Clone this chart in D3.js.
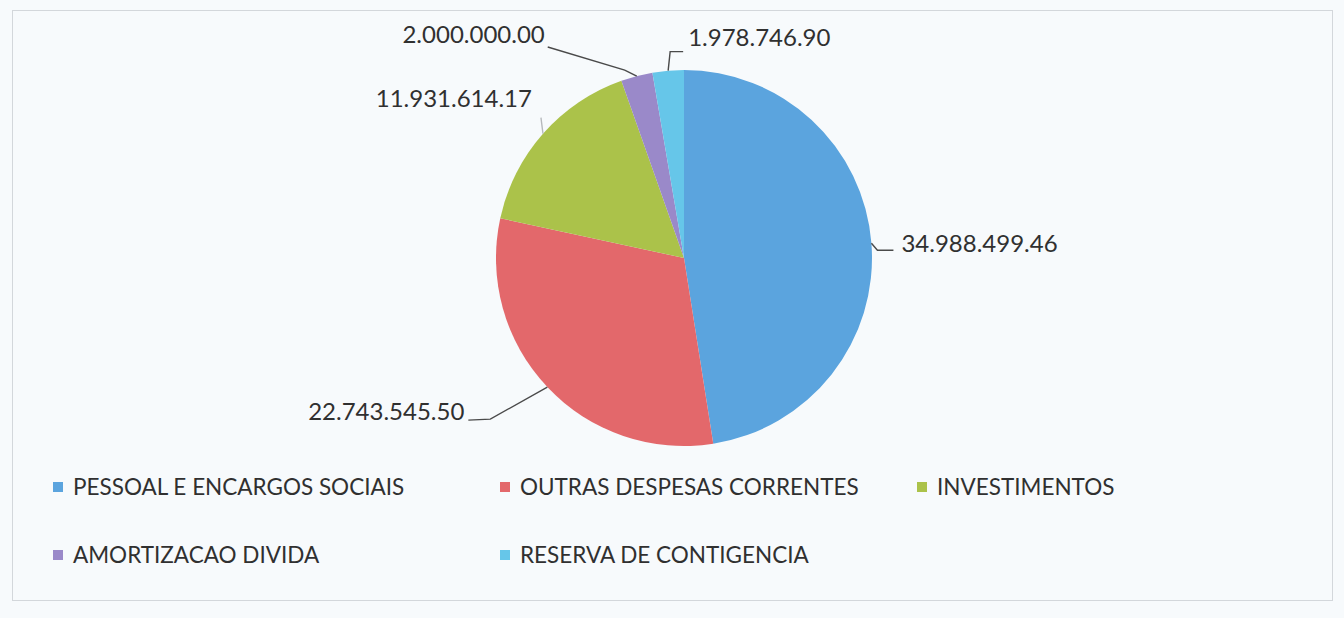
<!DOCTYPE html>
<html lang="pt">
<head>
    <meta charset="UTF-8">
    <title>Despesas</title>
    <style>
        body {
            margin: 0;
            background-color: #f7fafc;
            font-family: Lato, "Open Sans", sans-serif;
        }
        svg text {
            fill: #303030;
        }
    </style>
    <script src="https://d3js.org/d3.v7.min.js"></script>
</head>
<body>
    <svg id="chart" width="1344" height="618"></svg>
    <script>
        // Data
        const categories = ["PESSOAL E ENCARGOS SOCIAIS", "OUTRAS DESPESAS CORRENTES", "INVESTIMENTOS", "AMORTIZACAO DIVIDA", "RESERVA DE CONTIGENCIA"];
        const values = [34988499.46, 22743545.50, 11931614.17, 2000000.00, 1978746.90];
        const valueLabels = ["34.988.499.46", "22.743.545.50", "11.931.614.17", "2.000.000.00", "1.978.746.90"];
        const colors = ["#5ba4de", "#e3686b", "#abc24a", "#9a89c9", "#66c6e9"];

        // leader line bends (relative to the slice edge point) and label placement
        const leaders = [
            { pts: [[6, 7], [22, 7]], dx: 30, dy: 0, anchor: "start" },
            { pts: [[-57, 32], [-79, 33]], dx: -83, dy: 25, anchor: "end" },
            { pts: [[-2, -16]], dx: -11, dy: -35, anchor: "end" },
            { pts: [[-12, -6], [-89, -29]], dx: -92, dy: -41, anchor: "end" },
            { pts: [[2, -19], [15, -19]], dx: 20, dy: -33, anchor: "start" }
        ];

        const svg = d3.select("#chart");

        svg.append("rect")
            .attr("x", 12.5).attr("y", 10.5)
            .attr("width", 1320).attr("height", 590)
            .attr("fill", "none")
            .attr("stroke", "#d3d7db");

        const cx = 684, cy = 258, r = 188;
        const g = svg.append("g").attr("transform", `translate(${cx},${cy})`);

        const pie = d3.pie().sort(null).value(d => d);
        const arcs = pie(values);
        const arc = d3.arc().innerRadius(0).outerRadius(r);

        g.selectAll("path.slice")
            .data(arcs)
            .enter().append("path")
            .attr("class", "slice")
            .attr("d", arc)
            .attr("fill", (d, i) => colors[i]);

        const edge = d => {
            const a = (d.startAngle + d.endAngle) / 2;
            return [r * Math.sin(a), -r * Math.cos(a)];
        };

        g.selectAll("path.leader")
            .data(arcs)
            .enter().append("path")
            .attr("class", "leader")
            .attr("fill", "none")
            .attr("stroke", (d, i) => i === 2 ? "#b5b8bb" : "#4a4a4a")
            .attr("stroke-width", 1.4)
            .attr("d", (d, i) => {
                const p = edge(d);
                const pts = [p].concat(leaders[i].pts.map(q => [p[0] + q[0], p[1] + q[1]]));
                return d3.line()(pts);
            });

        g.selectAll("text.value")
            .data(arcs)
            .enter().append("text")
            .attr("class", "value")
            .attr("x", (d, i) => edge(d)[0] + leaders[i].dx)
            .attr("y", (d, i) => edge(d)[1] + leaders[i].dy)
            .attr("dy", "0.35em")
            .attr("text-anchor", (d, i) => leaders[i].anchor)
            .style("font-size", "24px")
            .text((d, i) => valueLabels[i]);

        // legend
        const legendX = d3.scaleOrdinal().domain([0, 1, 2]).range([58, 505, 922]);
        const legendY = d3.scaleOrdinal().domain([0, 1]).range([487, 555]);

        const item = svg.selectAll("g.legend")
            .data(categories)
            .enter().append("g")
            .attr("class", "legend")
            .attr("transform", (d, i) => {
                const col = i < 3 ? i : i - 3;
                const row = i < 3 ? 0 : 1;
                return `translate(${legendX(col)},${legendY(row)})`;
            });

        item.append("rect")
            .attr("x", -5).attr("y", -5)
            .attr("width", 10).attr("height", 10)
            .attr("fill", (d, i) => colors[i]);

        item.append("text")
            .attr("x", 15)
            .attr("dy", "0.36em")
            .style("font-size", "22.5px")
            .text(d => d);
    </script>
</body>
</html>
